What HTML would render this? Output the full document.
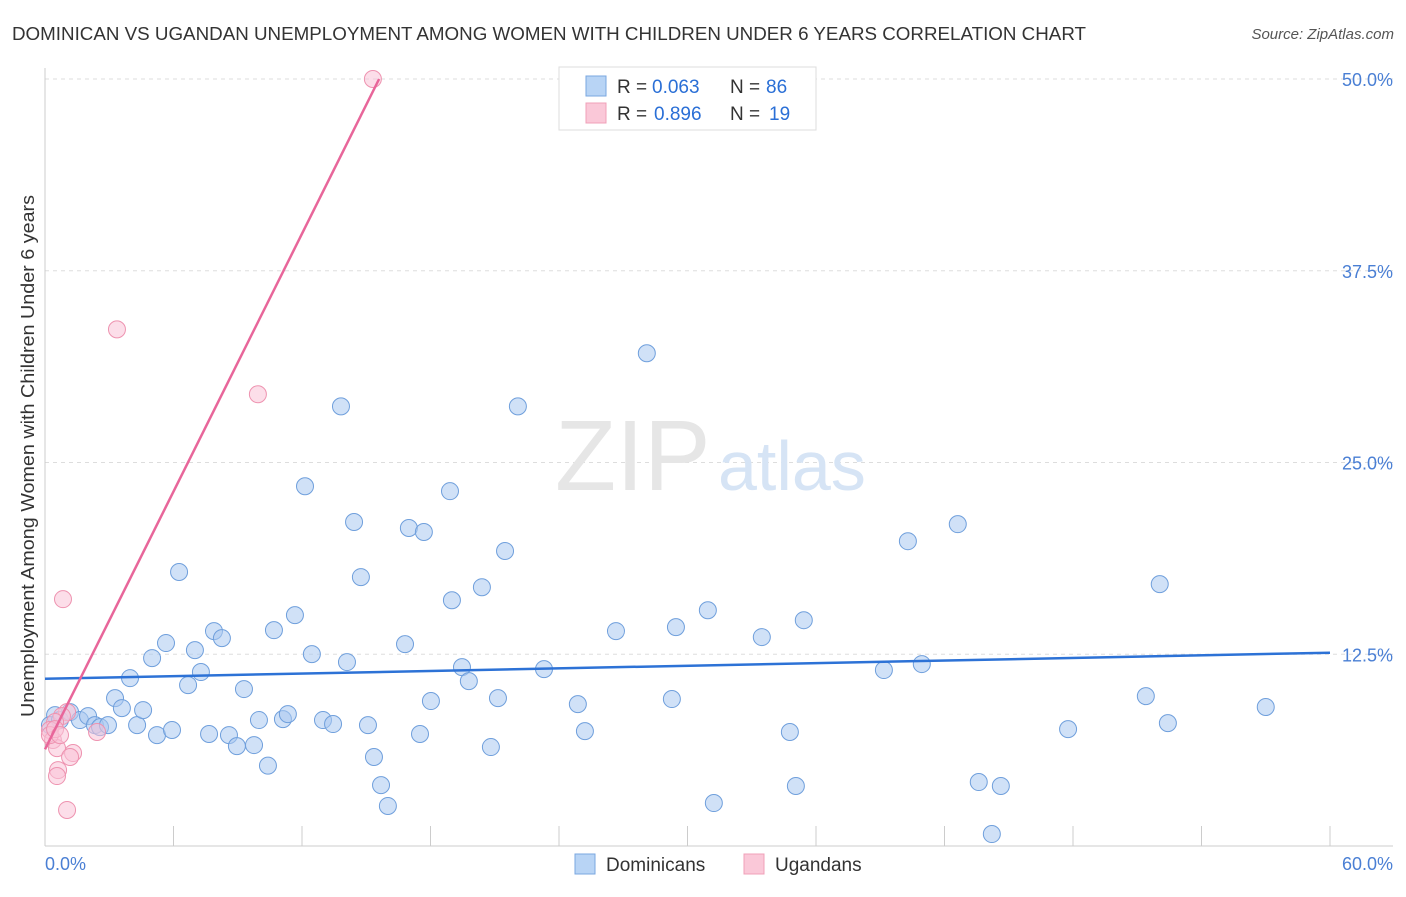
<!DOCTYPE html>
<html><head><meta charset="utf-8"><style>
body{margin:0;background:#fff;font-family:"Liberation Sans",sans-serif;}
svg text{font-family:"Liberation Sans",sans-serif;}
</style></head><body>
<svg width="1406" height="892" xmlns="http://www.w3.org/2000/svg">
<text x="12" y="40" font-size="18" fill="#333" textLength="1074" lengthAdjust="spacingAndGlyphs">DOMINICAN VS UGANDAN UNEMPLOYMENT AMONG WOMEN WITH CHILDREN UNDER 6 YEARS CORRELATION CHART</text>
<text x="1394" y="39" font-size="15" fill="#555" font-style="italic" text-anchor="end">Source: ZipAtlas.com</text>
<g id="grid"></g>
<text x="555" y="490" font-size="100" fill="#e6e6e6" font-family="Liberation Serif">ZIP</text>
<text x="718" y="490" font-size="70" fill="#d6e4f5">atlas</text>
<g id="axes"></g>
<g id="marks"></g>
<text transform="translate(34,456) rotate(-90)" font-size="18" fill="#333" text-anchor="middle" textLength="522" lengthAdjust="spacingAndGlyphs">Unemployment Among Women with Children Under 6 years</text>
<text x="45" y="870" font-size="18" fill="#4a7fd4">0.0%</text>
<text x="1393" y="870" font-size="18" fill="#4a7fd4" text-anchor="end">60.0%</text>
<g>
<rect x="559" y="67" width="257" height="63" fill="#fff" stroke="#ddd"/>
<rect x="586" y="76" width="20" height="20" fill="#b8d4f5" stroke="#7aa7e0"/>
<rect x="586" y="103" width="20" height="20" fill="#fac8d8" stroke="#f0a0b8"/>
<text x="617" y="93" font-size="19" fill="#333">R =</text>
<text x="652" y="93" font-size="19" fill="#2a6fd6">0.063</text>
<text x="730" y="93" font-size="19" fill="#333">N =</text>
<text x="766" y="93" font-size="19" fill="#2a6fd6">86</text>
<text x="617" y="120" font-size="19" fill="#333">R =</text>
<text x="654" y="120" font-size="19" fill="#2a6fd6">0.896</text>
<text x="730" y="120" font-size="19" fill="#333">N =</text>
<text x="769" y="120" font-size="19" fill="#2a6fd6">19</text>
</g>
<g>
<rect x="575" y="854" width="20" height="20" fill="#b8d4f5" stroke="#7aa7e0"/>
<text x="606" y="871" font-size="19" fill="#333">Dominicans</text>
<rect x="744" y="854" width="20" height="20" fill="#fac8d8" stroke="#f0a0b8"/>
<text x="775" y="871" font-size="19" fill="#333">Ugandans</text>
</g>
</svg>
<script>
const yTicks=[12.5,25,37.5,50];
const yTickLabels=["12.5%","25.0%","37.5%","50.0%"];
const xTicks=[0,6,12,18,24,30,36,42,48,54,60];
const blueX=[0.47,0.23,0.70,1.17,1.63,2.01,2.33,2.57,2.94,3.27,3.59,3.97,4.30,4.58,5.00,5.23,5.65,5.93,6.26,6.68,7.00,7.28,7.66,7.89,8.26,8.59,8.96,9.29,9.76,9.99,10.41,10.69,11.11,11.34,11.67,12.14,12.46,12.98,13.45,13.82,14.10,14.43,14.75,15.08,15.36,15.69,16.01,16.81,16.99,17.51,17.69,18.02,18.91,19.00,19.47,19.79,20.40,20.82,21.15,21.48,22.08,23.30,24.88,25.21,26.66,28.10,29.27,29.46,30.95,31.23,33.47,34.78,35.06,35.43,39.17,40.29,40.94,42.62,43.60,44.21,44.63,47.77,51.40,52.05,52.43,57.00];
const blueY=[8.53,7.88,8.21,8.73,8.21,8.47,7.88,7.75,7.88,9.64,8.99,10.94,7.88,8.86,12.25,7.23,13.23,7.56,17.86,10.49,12.77,11.34,7.30,14.01,13.55,7.23,6.51,10.23,6.58,8.21,5.24,14.07,8.27,8.60,15.05,23.45,12.51,8.21,7.95,28.66,11.99,21.12,17.53,7.88,5.80,3.97,2.61,13.16,20.73,7.30,20.47,9.45,23.13,16.02,11.66,10.75,16.87,6.45,9.64,19.23,28.66,11.53,9.25,7.49,14.01,32.12,9.58,14.27,15.37,2.80,13.62,7.43,3.91,14.72,11.47,19.87,11.86,20.98,4.17,0.78,3.91,7.62,9.77,17.07,8.01,9.06];
const pinkX=[15.31,3.36,9.94,0.84,1.03,0.79,0.47,0.23,0.37,0.56,1.31,1.17,0.61,0.56,1.03,2.43,0.23,0.47,0.70];
const pinkY=[50.0,33.68,29.45,16.09,8.73,8.47,8.08,7.56,6.91,6.38,6.06,5.80,4.95,4.56,2.35,7.43,7.23,7.62,7.23];
const blueLine=[[0,10.9],[60,12.6]];
const pinkLine=[[0,6.3],[15.6,50]];
const NS="http://www.w3.org/2000/svg";
const X=v=>45+v*(1285/60), Y=v=>846-v*(767/50);
function mk(t,a,p){const e=document.createElementNS(NS,t);for(const k in a)e.setAttribute(k,a[k]);p.appendChild(e);return e;}
const grid=document.getElementById('grid'),axes=document.getElementById('axes'),marks=document.getElementById('marks');
yTicks.forEach((t,i)=>{
 const l=mk('line',{x1:45,x2:1393,y1:Y(t),y2:Y(t),stroke:'#ddd','stroke-dasharray':'4,4'},grid);
 
 
 const tx=mk('text',{x:1393,y:Y(t)+7,'font-size':18,fill:'#4a7fd4','text-anchor':'end'},grid);
 tx.textContent=yTickLabels[i];
 
 
});
const ax=mk('line',{x1:45,x2:45,y1:68,y2:846,stroke:'#ccc'},axes);


const bx=mk('line',{x1:45,x2:1393,y1:846,y2:846,stroke:'#ccc'},axes);


xTicks.forEach(t=>{
 const l=mk('line',{x1:X(t),x2:X(t),y1:826,y2:846,stroke:'#ccc'},axes);
 
 
});
blueX.forEach((x,i)=>{
 const c=mk('circle',{cx:X(x),cy:Y(blueY[i]),r:8.5,fill:'rgba(170,200,240,0.55)',stroke:'#6f9fdc','stroke-width':1},marks);
 
 
});
pinkX.forEach((x,i)=>{
 const c=mk('circle',{cx:X(x),cy:Y(pinkY[i]),r:8.5,fill:'rgba(250,195,215,0.55)',stroke:'#ee93b0','stroke-width':1},marks);
 
 
});
const bl=mk('line',{x1:X(blueLine[0][0]),y1:Y(blueLine[0][1]),x2:X(blueLine[1][0]),y2:Y(blueLine[1][1]),stroke:'#2d72d6','stroke-width':2.5},marks);


const pl=mk('line',{x1:X(pinkLine[0][0]),y1:Y(pinkLine[0][1]),x2:X(pinkLine[1][0]),y2:Y(pinkLine[1][1]),stroke:'#e8669a','stroke-width':2.5},marks);


</script>
</body></html>
